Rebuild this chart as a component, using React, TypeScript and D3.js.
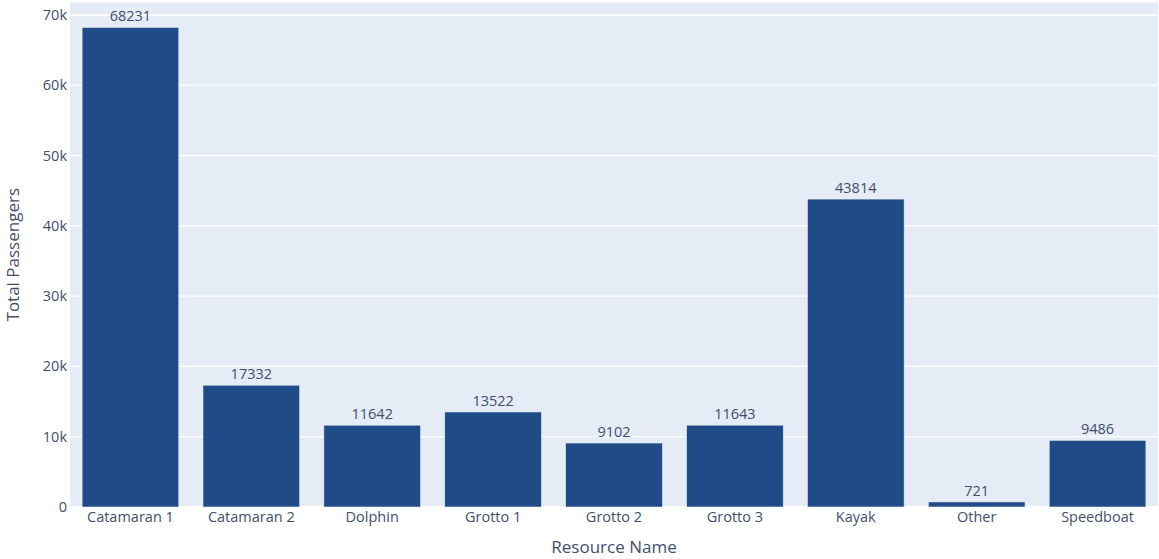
import React from "react";
import * as d3 from "d3";

const categories = ["Catamaran 1", "Catamaran 2", "Dolphin", "Grotto 1", "Grotto 2", "Grotto 3", "Kayak", "Other", "Speedboat"];
const values = [68231, 17332, 11642, 13522, 9102, 11643, 43814, 721, 9486];
const yTicks = [0, 10000, 20000, 30000, 40000, 50000, 60000, 70000];
const yTickLabels = ["0", "10k", "20k", "30k", "40k", "50k", "60k", "70k"];

const W = 1159;
const H = 559;
const left = 70;
const right = 1158;
const top = 2.5;
const bottom = 507;
const FONT = "'Open Sans', sans-serif";
const TEXT = "#3f4f6b";

export default function App() {
  const x = d3.scaleBand<string>().domain(categories).range([left, right]).paddingInner(0.2).paddingOuter(0.1);
  const y = d3.scaleLinear().domain([0, 71780]).range([bottom, top]);
  return (
    <div style={{ position: "fixed", left: 0, top: 0 }}>
      <svg width={W} height={H} style={{ display: "block", background: "#fff" }}>
        <rect x={left} y={top} width={right - left} height={bottom - top} fill="#E5ECF6" />
        {yTicks.map((t) => (
          <line key={t} x1={left} x2={right} y1={y(t)} y2={y(t)} stroke="#fff" strokeWidth={t === 0 ? 2 : 1.3} />
        ))}
        {categories.map((c, i) => (
          <g key={c}>
            <rect
              x={x(c)}
              y={y(values[i])}
              width={x.bandwidth()}
              height={y(0) - y(values[i])}
              fill="#1F4C86"
              stroke="#E5ECF6"
              strokeWidth={0.6}
            />
            <text
              x={(x(c) as number) + x.bandwidth() / 2}
              y={y(values[i]) - 6}
              textAnchor="middle"
              fontFamily={FONT}
              fontSize={14.5}
              fill={TEXT}
            >
              {values[i]}
            </text>
            <text
              x={(x(c) as number) + x.bandwidth() / 2}
              y={522}
              textAnchor="middle"
              fontFamily={FONT}
              fontSize={14.5}
              fill={TEXT}
            >
              {c}
            </text>
          </g>
        ))}
        {yTicks.map((t, i) => (
          <text key={t} x={67} y={y(t) + 5} textAnchor="end" fontFamily={FONT} fontSize={14.5} fill={TEXT}>
            {yTickLabels[i]}
          </text>
        ))}
        <text x={(left + right) / 2} y={553} textAnchor="middle" fontFamily={FONT} fontSize={17} fill={TEXT}>
          Resource Name
        </text>
        <text
          transform={`translate(19, ${(top + bottom) / 2}) rotate(-90)`}
          textAnchor="middle"
          fontFamily={FONT}
          fontSize={17}
          fill={TEXT}
        >
          Total Passengers
        </text>
      </svg>
    </div>
  );
}
